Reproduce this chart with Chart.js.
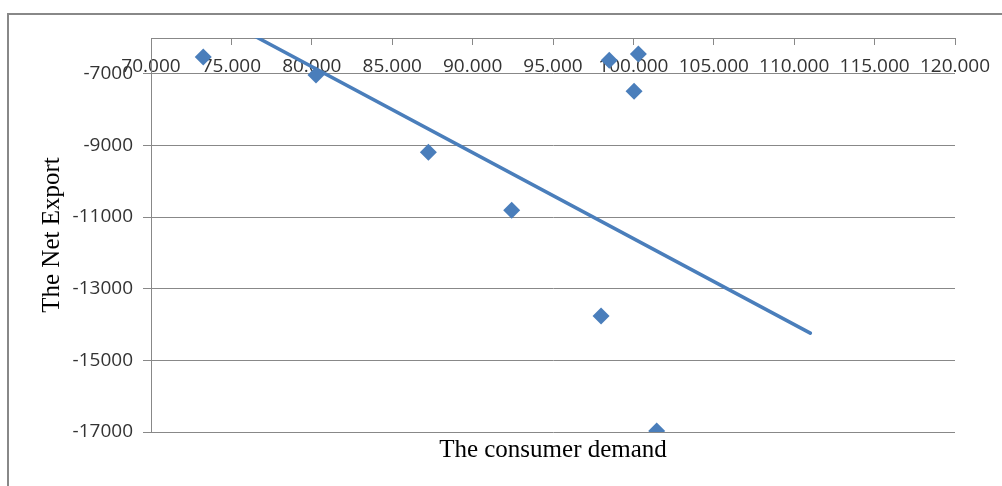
<!DOCTYPE html>
<html>
<head>
<meta charset="utf-8">
<script src="https://cdn.jsdelivr.net/npm/chart.js@4.4.1/dist/chart.umd.min.js"></script>
<style>
    html, body { margin: 0; padding: 0; background: #fff; overflow: hidden; }
    #contenedor { position: relative; width: 1002px; height: 486px; }
    #marco {
        position: absolute; left: 7px; top: 13px; width: 1100px; height: 600px;
        border-left: 2px solid #888; border-top: 2px solid #888;
    }
    #grafica { position: absolute; left: 0; top: 0; }
</style>
</head>
<body>
<div id="contenedor">
    <div id="marco"></div>
    <canvas id="grafica" width="1002" height="486"></canvas>
</div>
<script>
// demanda de consumo (eje x) y exportacion neta (eje y)
const demandaConsumo = [73.25, 80.26, 87.25, 92.43, 97.99, 98.50, 100.31, 100.04, 101.45];
const exportacionNeta = [-6530, -7030, -9190, -10810, -13760, -6620, -6450, -7490, -16970];

// extremos de la linea de tendencia
const tendenciaX = [73.25, 111.0];
const tendenciaY = [-5180, -14240];

const ticksX = [70, 75, 80, 85, 90, 95, 100, 105, 110, 115, 120];
const ticksY = [-7000, -9000, -11000, -13000, -15000, -17000];

const azul = '#4A7EBB';
const gris = '#888888';
const fuenteEjes = {family: "'Open Sans'", size: 19};
const fuenteTitulos = {family: "'Liberation Serif'", size: 25};

const puntos = demandaConsumo.map((x, i) => ({x: x, y: exportacionNeta[i]}));
const tendencia = tendenciaX.map((x, i) => ({x: x, y: tendenciaY[i]}));

const configuracion = {
    type: 'scatter',
    data: {
        datasets: [{
            label: 'Net Export',
            data: puntos,
            pointStyle: 'rectRot',
            pointRadius: 8.5,
            backgroundColor: azul,
            borderColor: azul,
            borderWidth: 0,
            order: 1
        }, {
            label: 'Tendencia',
            data: tendencia,
            showLine: true,
            pointRadius: 0,
            borderColor: azul,
            borderWidth: 3.5,
            borderCapStyle: 'round',
            fill: false,
            order: 2
        }]
    },
    options: {
        responsive: false,
        animation: false,
        layout: {
            padding: {left: 20, top: 38, right: 47, bottom: 21}
        },
        plugins: {
            legend: {display: false},
            tooltip: {enabled: false}
        },
        scales: {
            x: {
                type: 'linear',
                min: 70,
                max: 120,
                position: {y: -6000},
                afterBuildTicks: eje => { eje.ticks = ticksX.map(v => ({value: v})); },
                ticks: {
                    font: fuenteEjes,
                    color: '#333',
                    padding: 11,
                    maxRotation: 0,
                    autoSkip: false,
                    callback: v => v.toFixed(3)
                },
                grid: {
                    drawOnChartArea: false,
                    color: gris,
                    tickLength: 6
                },
                border: {color: gris, width: 1}
            },
            abajo: {
                type: 'linear',
                axis: 'x',
                position: 'bottom',
                min: 70,
                max: 120,
                afterFit: eje => { eje.height = 33; },
                grid: {display: false},
                border: {display: false},
                ticks: {display: false},
                title: {
                    display: true,
                    text: 'The consumer demand',
                    font: fuenteTitulos,
                    color: '#000',
                    padding: {top: 3, bottom: 0}
                }
            },
            y: {
                type: 'linear',
                min: -17000,
                max: -6000,
                position: 'left',
                afterBuildTicks: eje => { eje.ticks = ticksY.map(v => ({value: v})); },
                afterFit: eje => { eje.width = 131; },
                ticks: {
                    font: fuenteEjes,
                    color: '#333',
                    padding: 10,
                    callback: v => String(v)
                },
                grid: {
                    color: gris,
                    tickLength: 8
                },
                border: {color: gris, width: 1},
                title: {
                    display: true,
                    text: 'The Net Export',
                    font: fuenteTitulos,
                    color: '#000',
                    padding: {top: 17, bottom: 0}
                }
            }
        }
    }
};

document.addEventListener('DOMContentLoaded', () => {
    new Chart(document.getElementById('grafica'), configuracion);
});
</script>
</body>
</html>
